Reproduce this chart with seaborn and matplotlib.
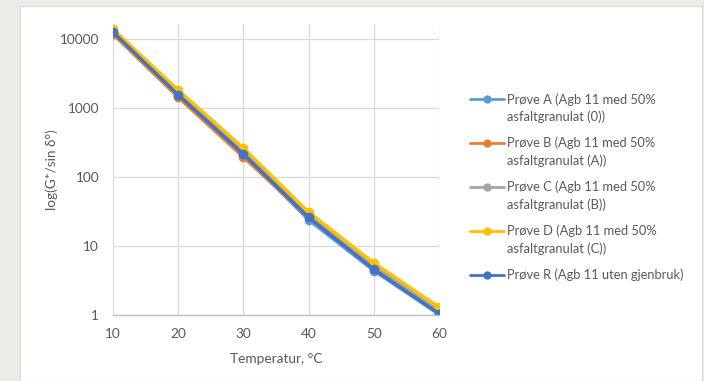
import matplotlib
matplotlib.use("Agg")
import matplotlib.pyplot as plt
import matplotlib.patches as mpatches
from matplotlib.legend_handler import HandlerLine2D
from matplotlib.ticker import FixedLocator, FixedFormatter, NullLocator
import numpy as np
import pandas as pd
import seaborn as sns

# data
temperatur = [10, 20, 30, 40, 50, 60]
serier = [
    "Prøve A (Agb 11 med 50%\nasfaltgranulat (0))",
    "Prøve B (Agb 11 med 50%\nasfaltgranulat (A))",
    "Prøve C (Agb 11 med 50%\nasfaltgranulat (B))",
    "Prøve D (Agb 11 med 50%\nasfaltgranulat (C))",
    "Prøve R (Agb 11 uten gjenbruk)",
]
prove_a = [12300, 1500, 210, 24, 4.4, 1.02]
prove_b = [11800, 1430, 195, 26, 4.7, 1.05]
prove_c = [13000, 1650, 235, 28, 5.2, 1.15]
prove_d = [13900, 1820, 263, 31, 5.7, 1.30]
prove_r = [12600, 1550, 215, 26, 4.6, 1.05]
farger = ["#5B9BD5", "#ED7D31", "#A5A5A5", "#FFC000", "#4472C4"]
y_ticks = [1, 10, 100, 1000, 10000]
y_ticklabels = ["1", "10", "100", "1000", "10000"]


def build_data_set():
    rows = []
    for name, vals in zip(serier, [prove_a, prove_b, prove_c, prove_d, prove_r]):
        for t, v in zip(temperatur, vals):
            rows.append((name, t, v))
    return pd.DataFrame(rows, columns=["Serie", "Temperatur", "Verdi"])


class FirstLineHandler(HandlerLine2D):
    # put the legend marker on the first text line, like Excel does
    def __init__(self, dy, **kw):
        super().__init__(**kw)
        self.dy = dy

    def create_artists(self, legend, orig_handle, xdescent, ydescent,
                       width, height, fontsize, trans):
        arts = super().create_artists(legend, orig_handle, xdescent, ydescent,
                                      width, height, fontsize, trans)
        for a in arts:
            a.set_ydata(np.asarray(a.get_ydata()) + self.dy)
            a.set_linewidth(2.0)
            a.set_markersize(6)
        return arts


def main():
    sns.set_style("white")
    plt.rcParams["font.family"] = ["Lato", "DejaVu Sans"]
    tc = "#595959"
    fs = 9.3

    fig = plt.figure(figsize=(7.04, 3.81), dpi=100)
    fig.patch.set_facecolor("#ecebe7")
    bg = mpatches.Rectangle((20 / 704, 0), 682 / 704, 375 / 381,
                            transform=fig.transFigure,
                            facecolor="white", edgecolor="#d9d9d9",
                            linewidth=0.8, zorder=-10)
    fig.patches.append(bg)
    ax = fig.add_axes([113 / 704, 1 - 315 / 381, 326 / 704, 291 / 381])
    ax.set_facecolor("none")
    ax.set_zorder(1)

    df = build_data_set()
    sns.lineplot(data=df, x="Temperatur", y="Verdi", hue="Serie",
                 hue_order=serier, palette=farger, marker="o",
                 markersize=7, markeredgewidth=0, linewidth=2.4,
                 ax=ax, legend=False)

    ax.set_yscale("log")
    ax.set_ylim(1, 16500)
    ax.set_xlim(10, 60)
    ax.yaxis.set_major_locator(FixedLocator(y_ticks))
    ax.yaxis.set_major_formatter(FixedFormatter(y_ticklabels))
    ax.yaxis.set_minor_locator(NullLocator())
    ax.set_xticks(temperatur)
    ax.grid(True, color="#d9d9d9", linewidth=0.9)
    ax.set_axisbelow(True)
    for s in ["left", "right", "top"]:
        ax.spines[s].set_visible(False)
    ax.spines["bottom"].set_color("#bfbfbf")
    ax.spines["bottom"].set_linewidth(1.0)
    ax.tick_params(axis="both", length=0, labelsize=fs + 0.5, colors=tc)
    ax.tick_params(axis="y", pad=10)
    ax.tick_params(axis="x", pad=9)
    ax.set_xlabel("Temperatur, °C", fontsize=fs + 0.5, color=tc, labelpad=10)
    ax.set_ylabel("log(G*/sin δ°)", fontsize=fs + 0.5, color=tc, labelpad=1)

    handles = ax.get_lines()[:len(serier)]
    hmap = {}
    for i, h in enumerate(handles):
        hmap[h] = FirstLineHandler(7.0 if "\n" in serier[i] else 0)
    leg = fig.legend(handles, serier, handler_map=hmap,
                     loc="upper left", bbox_to_anchor=(470 / 704, 1 - 93 / 381),
                     frameon=False, fontsize=fs, labelcolor=tc,
                     handlelength=2.6, handletextpad=0.3, labelspacing=1.05,
                     borderpad=0, borderaxespad=0)
    for t in leg.get_texts():
        t.set_linespacing(1.5)

    plt.savefig("out.png", dpi=100, facecolor=fig.get_facecolor())


main()
